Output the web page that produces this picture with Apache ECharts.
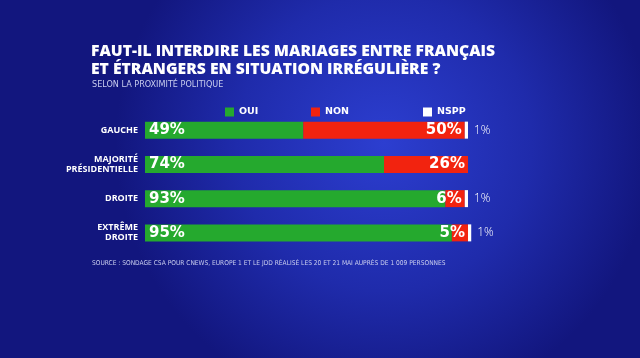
<!DOCTYPE html>
<html><head><meta charset="utf-8">
<script src="https://cdn.jsdelivr.net/npm/echarts@6/dist/echarts.min.js"></script>
<style>html,body{margin:0;padding:0;background:#151a8a;}#c{width:640px;height:358px;}</style>
</head><body><div id="c"></div>
<script>
const categories = ['GAUCHE', 'MAJORITÉ\nPRÉSIDENTIELLE', 'DROITE', 'EXTRÊME\nDROITE'];
const oui = [49, 74, 93, 95];
const non = [50, 26, 6, 5];
const nspp = [1, 0, 1, 1];
const seriesNames = ['OUI', 'NON', 'NSPP'];
const titleText = 'FAUT-IL INTERDIRE LES MARIAGES ENTRE FRANÇAIS\nET ÉTRANGERS EN SITUATION IRRÉGULIÈRE ?';
const subtitleText = 'SELON LA PROXIMITÉ POLITIQUE';
const sourceText = 'SOURCE : SONDAGE CSA POUR CNEWS, EUROPE 1 ET LE JDD RÉALISÉ LES 20 ET 21 MAI AUPRÈS DE 1 009 PERSONNES';

const chart = echarts.init(document.getElementById('c'), null, {renderer: 'canvas'});
const F = '"Open Sans", sans-serif';
const W = '"DejaVu Sans", sans-serif';
const NARROW = '"Liberation Sans Narrow", "DejaVu Sans Condensed", "Open Sans", sans-serif';
const pct = p => p.value > 0 ? p.value + '%' : '';
chart.setOption({
  backgroundColor: new echarts.graphic.RadialGradient(0.6, 0.4, 0.75, [
    {offset: 0, color: '#2c3ed0'},
    {offset: 0.55, color: '#1f2bab'},
    {offset: 1, color: '#12167e'}
  ]),
  animation: false,
  title: [
    {text: titleText, left: 86, top: 38, textStyle: {color: '#fff', fontFamily: F, fontWeight: 800, fontSize: 15.7, lineHeight: 17.5}},
    {text: subtitleText, left: 87, top: 75, textStyle: {color: '#c9cdee', fontFamily: NARROW, fontWeight: 'normal', fontSize: 9}},
    {text: sourceText, left: 87, top: 255, textStyle: {color: '#c9cdee', fontFamily: NARROW, fontWeight: 'normal', fontSize: 6.6}}
  ],
  legend: [
    {data: ['OUI'], left: 220, top: 102},
    {data: ['NON'], left: 306, top: 102},
    {data: ['NSPP'], left: 418, top: 102}
  ].map(l => Object.assign(l, {icon: 'rect', itemWidth: 9, itemHeight: 9, itemGap: 5, textStyle: {color: '#fff', fontFamily: W, fontWeight: 'bold', fontSize: 9.5}})),
  grid: {left: 145, right: 172, top: 113, bottom: 108},
  xAxis: {type: 'value', min: 0, max: 100, show: false},
  yAxis: {type: 'category', data: categories, inverse: true,
    axisLine: {show: false}, axisTick: {show: false}, splitLine: {show: false},
    axisLabel: {color: '#fff', fontFamily: F, fontWeight: 'bold', fontSize: 9, lineHeight: 10, margin: 7, align: 'right'}},
  series: [
    {name: 'OUI', type: 'bar', stack: 's', data: oui, barWidth: 17, clip: false, itemStyle: {color: '#25a92e'},
      label: {show: true, position: 'insideLeft', distance: 4, formatter: pct, color: '#fff', fontFamily: W, fontWeight: 'bold', fontSize: 15}},
    {name: 'NON', type: 'bar', stack: 's', data: non, barWidth: 17, clip: false, itemStyle: {color: '#f2230f'},
      label: {show: true, position: 'insideRight', distance: 3, formatter: pct, color: '#fff', fontFamily: W, fontWeight: 'bold', fontSize: 15}},
    {name: 'NSPP', type: 'bar', stack: 's', data: nspp, barWidth: 17, clip: false, itemStyle: {color: '#ffffff'},
      label: {show: true, position: 'right', distance: 6, formatter: pct, color: '#fff', fontFamily: F, fontWeight: 300, fontSize: 12}}
  ]
});
</script></body></html>
